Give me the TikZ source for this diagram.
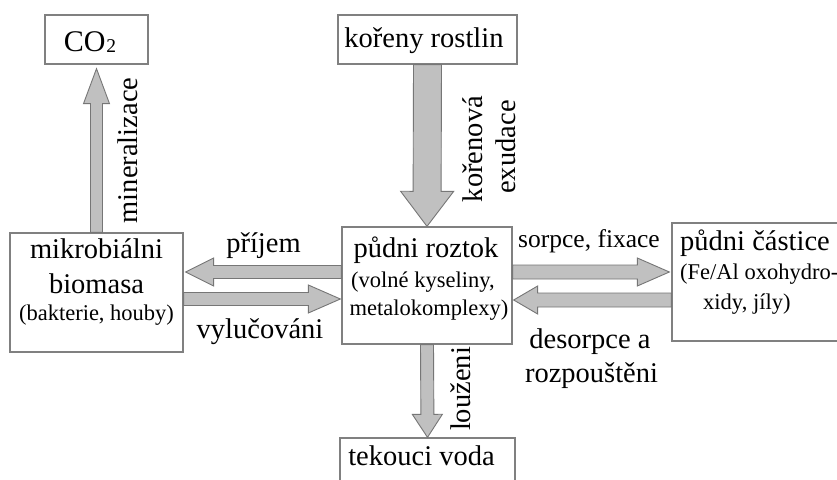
\documentclass[tikz,border=0pt]{standalone}
\usepackage{fontspec}
\setmainfont{Liberation Serif}
\usetikzlibrary{calc}
\definecolor{boxline}{RGB}{128,128,128}
\definecolor{arrfill}{RGB}{192,192,192}
\definecolor{arrline}{RGB}{118,118,118}
\tikzset{
  box/.style={draw=boxline, line width=1.3pt, fill=white, inner sep=0pt, rectangle},
  maintext/.style={font=\fontsize{28.5}{32}\selectfont, inner sep=0pt, text=black},
  smalltext/.style={font=\fontsize{22.5}{26}\selectfont, inner sep=0pt, text=black},
  midtext/.style={font=\fontsize{25.5}{29}\selectfont, inner sep=0pt, text=black},
  blockarr/.style={fill=arrfill, draw=arrline, line width=0.9pt, line join=miter}
}
\newcommand{\blockarrow}[5]{%
  \coordinate (bah) at ($(#2)!#5!(#1)$);
  \filldraw[blockarr] ($(#1)!#3!90:(#2)$) -- ($(bah)!#3!90:(#2)$) -- ($(bah)!#4!90:(#2)$) -- (#2)
    -- ($(bah)!#4!-90:(#2)$) -- ($(bah)!#3!-90:(#2)$) -- ($(#1)!#3!-90:(#2)$) -- cycle;}
\begin{document}
\begin{tikzpicture}[x=1pt,y=-1pt]
\useasboundingbox (0,0) rectangle (837,479);
\clip (0,0) rectangle (837,479);
\fill[white] (0,0) rectangle (837,479);

% boxes
\node[box, minimum width=103pt, minimum height=49pt] (co2) at (96.5,39.5) {};
\node[box, minimum width=179pt, minimum height=49pt] (koreny) at (427.5,39.5) {};
\node[box, minimum width=173pt, minimum height=119pt] (mikro) at (96.5,292.5) {};
\node[box, minimum width=170pt, minimum height=117pt] (roztok) at (427,285.5) {};
\node[box, minimum width=172pt, minimum height=118pt] (castice) at (758,282) {};
\node[box, minimum width=175pt, minimum height=60pt] (voda) at (427.5,468) {};

% box texts
\node[inner sep=0pt, text=black, anchor=base] (co2t) at (90,51) {\fontsize{30}{34}\selectfont CO\kern1pt\raisebox{-1.5pt}{\fontsize{19.5}{22}\selectfont 2}};
\node[maintext, anchor=base] (korenyt) at (424,47) {kořeny rostlin};
\node[maintext, anchor=base] (mikro1) at (96.5,258) {mikrobiálni};
\node[maintext, anchor=base] (mikro2) at (96.5,293) {biomasa};
\node[smalltext, anchor=base] (mikro3) at (96.5,320) {(bakterie, houby)};
\node[maintext, anchor=base] (roztok1) at (426,257) {půdni roztok};
\node[smalltext, anchor=base] (roztok2) at (423,287) {(volné kyseliny,};
\node[smalltext, anchor=base] (roztok3) at (429,315) {metalokomplexy)};
\node[maintext, anchor=base west] (castice1) at (680,250) {půdni částice};
\node[smalltext, anchor=base west] (castice2) at (680,279) {(Fe/Al oxohydro-};
\node[smalltext, anchor=base west] (castice3) at (703,309) {xidy, jíly)};
\node[maintext, anchor=base] (vodat) at (421.5,465) {tekouci voda};

% connector end points
\coordinate (minB) at ($(co2.south)+(0,4)$);
\coordinate (prA) at ($(roztok.west)+(0,-13.5)$);
\coordinate (prB) at ($(mikro.east |- prA)+(2,0)$);
\coordinate (vyA) at ($(mikro.east)+(0,6.5)$);
\coordinate (vyB) at ($(roztok.west |- vyA)+(-1,0)$);
\coordinate (soA) at ($(roztok.east)+(0,-13.5)$);
\coordinate (soB) at ($(castice.west |- soA)+(-2,0)$);
\coordinate (deA) at ($(castice.west)+(0,18)$);
\coordinate (deB) at ($(roztok.east |- deA)+(1,0)$);

% block arrows
\blockarrow{mikro.north}{minB}{6pt}{13pt}{35pt}
\blockarrow{koreny.south}{roztok.north}{14pt}{26.5pt}{35pt}
\blockarrow{prA}{prB}{6.5pt}{14pt}{28pt}
\blockarrow{vyA}{vyB}{6.5pt}{14pt}{32pt}
\blockarrow{soA}{soB}{7pt}{14pt}{32pt}
\blockarrow{deA}{deB}{7pt}{14pt}{24pt}
\blockarrow{roztok.south}{voda.north}{6.5pt}{15pt}{23pt}

% labels
\node[maintext, anchor=base, rotate=90] (lmin) at (137,150.5) {mineralizace};
\node[maintext, anchor=base, rotate=90] (lkor) at (482,149) {kořenová};
\node[maintext, anchor=base, rotate=90] (lexu) at (515,147) {exudace};
\node[maintext, anchor=base, rotate=90] (llou) at (470,389) {louženi};
\node[maintext, anchor=base] (lpri) at (263.5,252) {příjem};
\node[maintext, anchor=base] (lvyl) at (260,338) {vylučováni};
\node[midtext, anchor=base] (lsor) at (589,247) {sorpce, fixace};
\node[maintext, anchor=base] (ldes) at (590,348) {desorpce a};
\node[maintext, anchor=base] (lroz) at (591.5,382) {rozpouštěni};
\end{tikzpicture}
\end{document}
